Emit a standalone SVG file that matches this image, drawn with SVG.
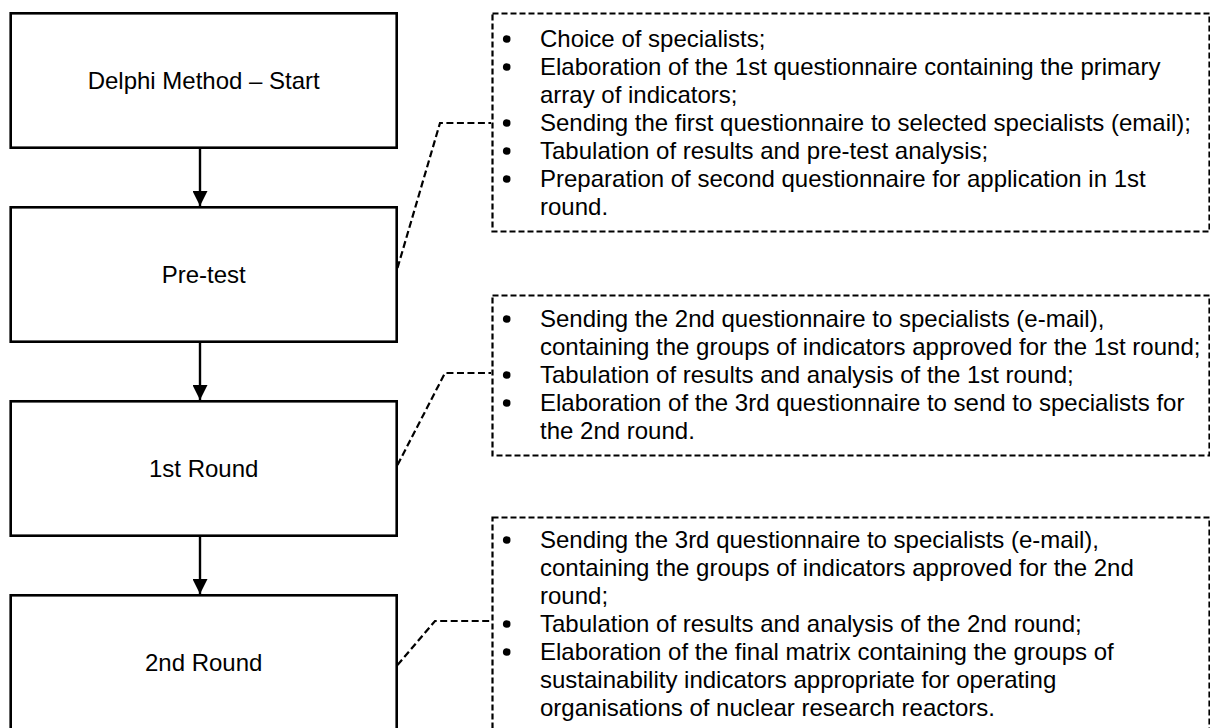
<svg xmlns="http://www.w3.org/2000/svg" width="1210" height="728" viewBox="0 0 1210 728">
  <defs>
    <style>
      .step { fill: #ffffff; stroke: #000000; stroke-width: 2.6; }
      .step-label { font-family: "Liberation Sans", Arial, sans-serif; font-size: 24px; fill: #000000; text-anchor: middle; }
      .note { fill: #ffffff; stroke: #000000; stroke-width: 2.2; stroke-dasharray: 6 3; }
      .note-text { font-family: "Liberation Sans", Arial, sans-serif; font-size: 24px; fill: #000000; }
      .bullet { fill: #000000; }
      .flow { stroke: #000000; stroke-width: 2.4; fill: none; }
      .link { stroke: #000000; stroke-width: 2.2; fill: none; stroke-dasharray: 7 3.5; }
    </style>
    <marker id="arrowhead" viewBox="0 0 15 15" refX="15" refY="7.5" markerWidth="15" markerHeight="15" markerUnits="userSpaceOnUse" orient="auto">
      <path d="M0,0 L15,7.5 L0,15 Z" fill="#000000"/>
    </marker>
  </defs>

  <rect width="1210" height="728" fill="#ffffff"/>

  <!-- process steps -->
  <g id="step-start">
    <rect class="step" x="10.7" y="13.3" width="386" height="134.4"/>
    <text class="step-label" x="203.7" y="89.3">Delphi Method – Start</text>
  </g>
  <g id="step-pretest">
    <rect class="step" x="10.7" y="207.3" width="386" height="134.4"/>
    <text class="step-label" x="203.7" y="283.3">Pre-test</text>
  </g>
  <g id="step-round1">
    <rect class="step" x="10.7" y="401.3" width="386" height="134.4"/>
    <text class="step-label" x="203.7" y="477">1st Round</text>
  </g>
  <g id="step-round2">
    <rect class="step" x="10.7" y="595.3" width="386" height="150"/>
    <text class="step-label" x="203.7" y="671">2nd Round</text>
  </g>

  <!-- activity notes -->
  <g id="note-pretest">
    <rect class="note" x="492.5" y="13.5" width="717" height="218"/>
    <circle class="bullet" cx="506.7" cy="39" r="3.8"/>
    <circle class="bullet" cx="506.7" cy="67" r="3.8"/>
    <circle class="bullet" cx="506.7" cy="123" r="3.8"/>
    <circle class="bullet" cx="506.7" cy="151" r="3.8"/>
    <circle class="bullet" cx="506.7" cy="179" r="3.8"/>
    <text class="note-text" x="540" y="47">Choice of specialists;</text>
    <text class="note-text" x="540" y="75">Elaboration of the 1st questionnaire containing the primary</text>
    <text class="note-text" x="540" y="103">array of indicators;</text>
    <text class="note-text" x="540" y="131">Sending the first questionnaire to selected specialists (email);</text>
    <text class="note-text" x="540" y="159">Tabulation of results and pre-test analysis;</text>
    <text class="note-text" x="540" y="187">Preparation of second questionnaire for application in 1st</text>
    <text class="note-text" x="540" y="215">round.</text>
  </g>
  <g id="note-round1">
    <rect class="note" x="492.5" y="295.5" width="717" height="160"/>
    <circle class="bullet" cx="506.7" cy="319" r="3.8"/>
    <circle class="bullet" cx="506.7" cy="375" r="3.8"/>
    <circle class="bullet" cx="506.7" cy="403" r="3.8"/>
    <text class="note-text" x="540" y="327">Sending the 2nd questionnaire to specialists (e-mail),</text>
    <text class="note-text" x="540" y="355">containing the groups of indicators approved for the 1st round;</text>
    <text class="note-text" x="540" y="383">Tabulation of results and analysis of the 1st round;</text>
    <text class="note-text" x="540" y="411">Elaboration of the 3rd questionnaire to send to specialists for</text>
    <text class="note-text" x="540" y="439">the 2nd round.</text>
  </g>
  <g id="note-round2">
    <rect class="note" x="492.5" y="517.5" width="717" height="230"/>
    <circle class="bullet" cx="506.7" cy="540" r="3.8"/>
    <circle class="bullet" cx="506.7" cy="624" r="3.8"/>
    <circle class="bullet" cx="506.7" cy="652" r="3.8"/>
    <text class="note-text" x="540" y="548">Sending the 3rd questionnaire to specialists (e-mail),</text>
    <text class="note-text" x="540" y="576">containing the groups of indicators approved for the 2nd</text>
    <text class="note-text" x="540" y="604">round;</text>
    <text class="note-text" x="540" y="632">Tabulation of results and analysis of the 2nd round;</text>
    <text class="note-text" x="540" y="660">Elaboration of the final matrix containing the groups of</text>
    <text class="note-text" x="540" y="688">sustainability indicators appropriate for operating</text>
    <text class="note-text" x="540" y="716">organisations of nuclear research reactors.</text>
  </g>

  <!-- connectors -->
  <g id="connectors">
    <line class="flow" x1="200" y1="147.7" x2="200" y2="206" marker-end="url(#arrowhead)"/>
    <line class="flow" x1="200" y1="341.7" x2="200" y2="400" marker-end="url(#arrowhead)"/>
    <line class="flow" x1="200" y1="535.7" x2="200" y2="594" marker-end="url(#arrowhead)"/>
    <polyline class="link" points="397.5,268 440,123 491,123"/>
    <polyline class="link" points="397.5,465 445,373 491,373"/>
    <polyline class="link" points="397.5,665 435,621 491,621"/>
  </g>
</svg>
